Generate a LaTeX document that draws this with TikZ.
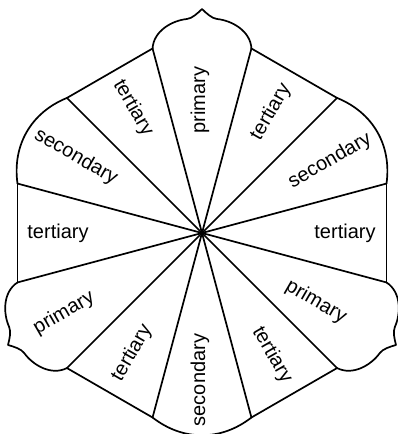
\documentclass[tikz,border=0pt]{standalone}
\usepackage{fontspec}
\setmainfont{Liberation Sans}
\begin{document}
\begin{tikzpicture}[x=1pt,y=1pt,
  edge/.style={line width=1.7pt,line join=round,line cap=round},
  lbl/.style={font=\fontsize{20}{24}\selectfont,inner sep=0pt}]
\useasboundingbox (-202,-201) rectangle (196,233);
\coordinate (c) at (0,0);
% spokes
\foreach \a in {15,45,...,345} \draw[edge] (c) -- (\a:191);
% tertiary (straight)
\foreach \a in {0,60,120,180,240,300} \draw[edge] (\a-15:191) -- (\a+15:191);
% secondary (arc)
\foreach \a in {30,150,270} \draw[edge] (\a-15:191) to[bend right=38] (\a+15:191);
% primary (ogee)
\foreach \a in {90,210,330}
  \draw[edge,rotate=\a-90] (49.43,184.49) .. controls (48.5,202) and (30,212.5) .. (15,214)
    .. controls (10,214.5) and (4,220) .. (0,224)
    .. controls (-4,220) and (-10,214.5) .. (-15,214)
    .. controls (-30,212.5) and (-48.5,202) .. (-49.43,184.49);
% labels
\node[lbl,rotate=90]  (p1) at (-2,133)   {primary};
\node[lbl,rotate=60]  (t1) at (69,121)   {tertiary};
\node[lbl,rotate=30]  (s1) at (128,72)   {secondary};
\node[lbl]            (t2) at (143,0)    {tertiary};
\node[lbl,rotate=-30] (p2) at (114,-69)  {primary};
\node[lbl,rotate=-60] (t3) at (70,-122)  {tertiary};
\node[lbl,rotate=90]  (s2) at (-2,-147)  {secondary};
\node[lbl,rotate=60]  (t4) at (-70,-120) {tertiary};
\node[lbl,rotate=30]  (p3) at (-138,-80) {primary};
\node[lbl]            (t5) at (-144,0)   {tertiary};
\node[lbl,rotate=-30] (s3) at (-126,76)  {secondary};
\node[lbl,rotate=-60] (t6) at (-69,125)  {tertiary};
\end{tikzpicture}
\end{document}
